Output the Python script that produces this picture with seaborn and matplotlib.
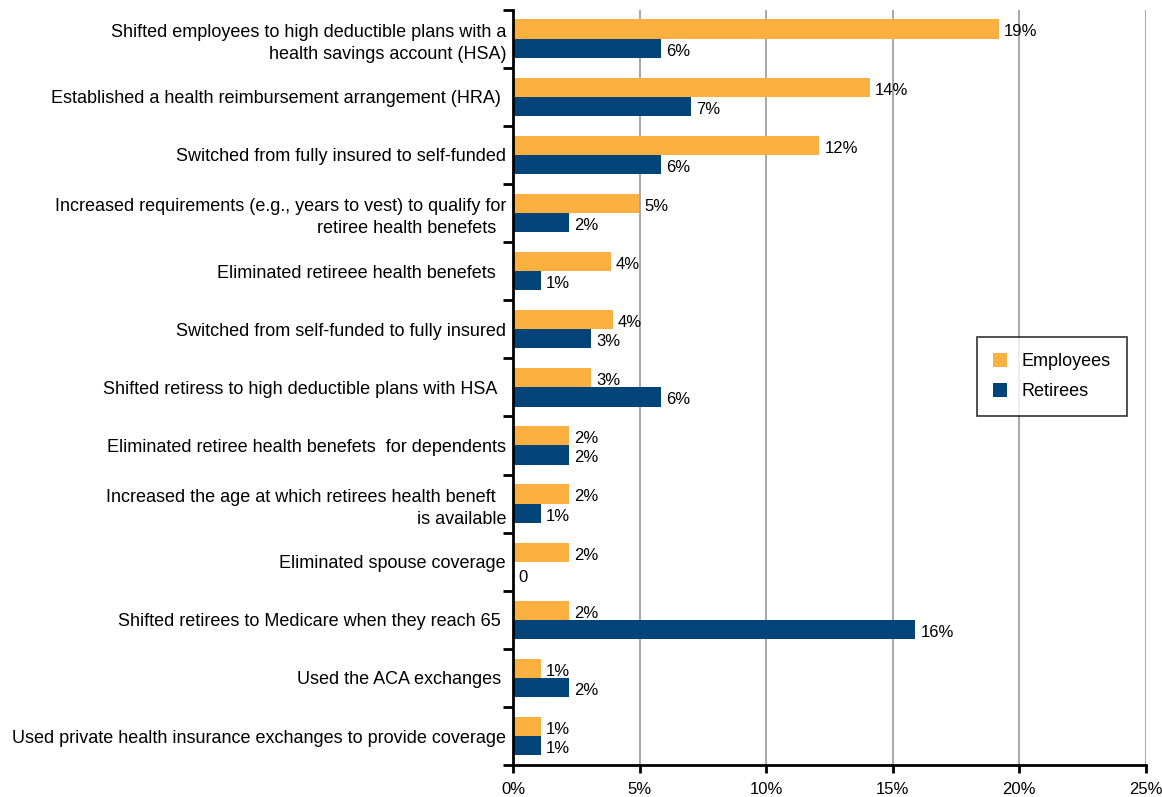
import matplotlib
matplotlib.use("Agg")
import matplotlib.pyplot as plt
import seaborn as sns
import pandas as pd
import numpy as np
from matplotlib.ticker import FixedLocator, PercentFormatter

categories = [
    "Shifted employees to high deductible plans with a\nhealth savings account (HSA)",
    "Established a health reimbursement arrangement (HRA) ",
    "Switched from fully insured to self-funded",
    "Increased requirements (e.g., years to vest) to qualify for\nretiree health benefets  ",
    "Eliminated retireee health benefets  ",
    "Switched from self-funded to fully insured",
    "Shifted retiress to high deductible plans with HSA  ",
    "Eliminated retiree health benefets  for dependents",
    "Increased the age at which retirees health beneft  \nis available",
    "Eliminated spouse coverage",
    "Shifted retirees to Medicare when they reach 65 ",
    "Used the ACA exchanges ",
    "Used private health insurance exchanges to provide coverage",
]
employees = [19.2, 14.1, 12.1, 4.98, 3.87, 3.95, 3.08, 2.2, 2.2, 2.2, 2.2, 1.1, 1.1]
retirees = [5.85, 7.03, 5.85, 2.2, 1.1, 3.08, 5.85, 2.2, 1.1, 0.0, 15.9, 2.2, 1.1]
employee_labels = ["19%", "14%", "12%", "5%", "4%", "4%", "3%", "2%", "2%", "2%", "2%", "1%", "1%"]
retiree_labels = ["6%", "7%", "6%", "2%", "1%", "3%", "6%", "2%", "1%", "0", "16%", "2%", "1%"]
series = ["Employees", "Retirees"]
colors = ["#FBB040", "#004479"]
x_ticks = [0, 5, 10, 15, 20, 25]

df = pd.DataFrame({
    "category": categories * 2,
    "value": employees + retirees,
    "series": [series[0]] * len(categories) + [series[1]] * len(categories),
})

sns.set_style("white")
plt.rcParams["font.family"] = ["Liberation Sans", "DejaVu Sans"]
plt.rcParams["text.color"] = "black"
plt.rcParams["xtick.labelcolor"] = "black"
plt.rcParams["ytick.labelcolor"] = "black"

fig = plt.figure(figsize=(11.62, 7.97), dpi=100)
ax = fig.add_axes([0.4415, 0.040, 0.5445, 0.948])

sns.barplot(data=df, y="category", x="value", hue="series", order=categories,
            hue_order=series, palette=colors, orient="h", width=0.66,
            saturation=1, linewidth=0, ax=ax, legend=True)

ax.set_xlim(0, 25)
ax.set_ylim(len(categories) - 0.5, -0.5)
ax.xaxis.set_major_locator(FixedLocator(x_ticks))
ax.xaxis.set_major_formatter(PercentFormatter(decimals=0))
ax.grid(axis="x", color="#A0A0A0", linewidth=1.3)
ax.set_axisbelow(True)
ax.set_xlabel("")
ax.set_ylabel("")

for s in ["top", "right"]:
    ax.spines[s].set_visible(False)
for s in ["left", "bottom"]:
    ax.spines[s].set_color("black")
    ax.spines[s].set_linewidth(2.0)

ax.tick_params(axis="x", bottom=True, direction="out", length=6, width=2, color="black",
               labelsize=12, pad=6, labelcolor="black")
ax.tick_params(axis="y", which="major", left=True, length=0, labelsize=13, pad=5,
               labelcolor="black")
ax.yaxis.set_minor_locator(FixedLocator(np.arange(-0.5, len(categories), 1.0)))
ax.tick_params(axis="y", which="minor", left=True, direction="out", length=7, width=2,
               color="black")
for lbl in ax.get_yticklabels():
    lbl.set_multialignment("right")
    lbl.set_linespacing(1.4)

for cont, labels in zip(ax.containers, [employee_labels, retiree_labels]):
    for bar, lab in zip(cont, labels):
        w = bar.get_width()
        yc = bar.get_y() + bar.get_height() / 2
        if w == 0:
            ax.text(0.2, yc + 0.1, lab, va="center", ha="left", fontsize=12)
        else:
            ax.text(w + 0.2, yc + 0.05, lab, va="center", ha="left", fontsize=12)

leg = ax.legend(loc="upper left", bbox_to_anchor=(0.733, 0.567), frameon=True,
                fancybox=False, edgecolor="black", fontsize=13,
                handlelength=0.8, handleheight=0.8, borderpad=0.9,
                labelspacing=0.7, handletextpad=0.8, borderaxespad=0)
leg.get_frame().set_linewidth(1.2)
for t in leg.get_texts():
    t.set_color("black")

fig.savefig("out.png", dpi=100)
